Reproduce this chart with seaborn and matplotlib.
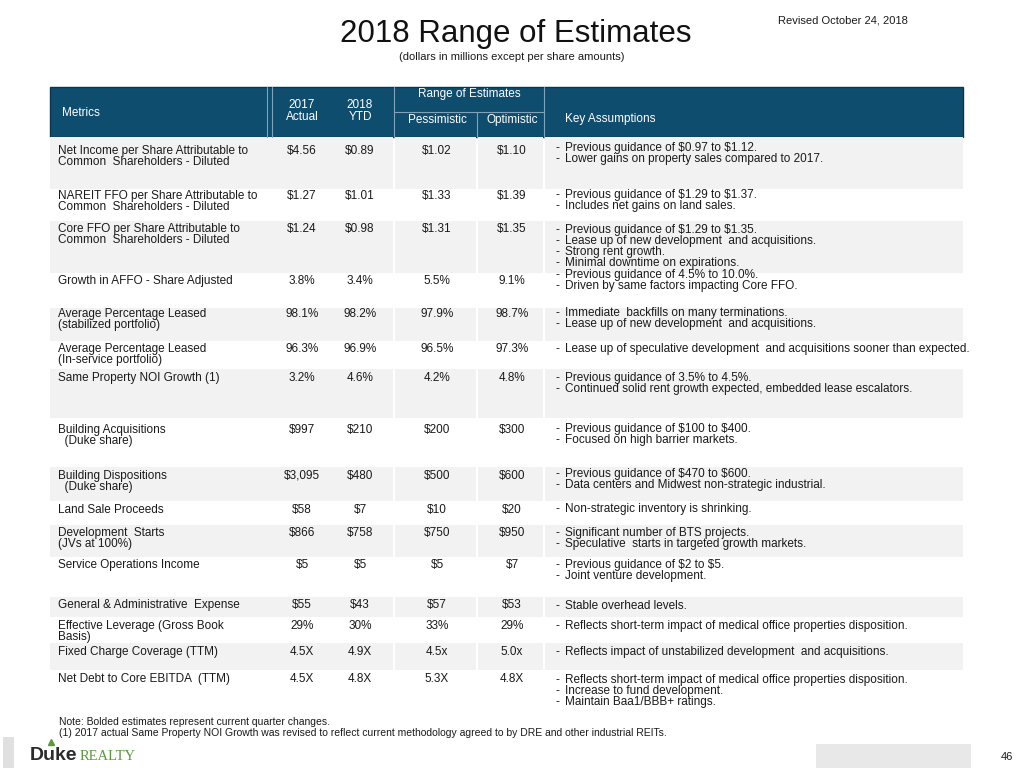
import matplotlib
matplotlib.use("Agg")
import matplotlib.pyplot as plt
from matplotlib.patches import Rectangle
import seaborn as sns

# data
metrics = [
    ["Net Income per Share Attributable to", "Common  Shareholders - Diluted"],
    ["NAREIT FFO per Share Attributable to", "Common  Shareholders - Diluted"],
    ["Core FFO per Share Attributable to", "Common  Shareholders - Diluted"],
    ["Growth in AFFO - Share Adjusted"],
    ["Average Percentage Leased", "(stabilized portfolio)"],
    ["Average Percentage Leased", "(In-service portfolio)"],
    ["Same Property NOI Growth (1)"],
    ["Building Acquisitions", "  (Duke share)"],
    ["Building Dispositions", "  (Duke share)"],
    ["Land Sale Proceeds"],
    ["Development  Starts", "(JVs at 100%)"],
    ["Service Operations Income"],
    ["General & Administrative  Expense"],
    ["Effective Leverage (Gross Book", "Basis)"],
    ["Fixed Charge Coverage (TTM)"],
    ["Net Debt to Core EBITDA  (TTM)"],
]
actual_2017 = ["$4.56", "$1.27", "$1.24", "3.8%", "98.1%", "96.3%", "3.2%", "$997",
               "$3,095", "$58", "$866", "$5", "$55", "29%", "4.5X", "4.5X"]
ytd_2018 = ["$0.89", "$1.01", "$0.98", "3.4%", "98.2%", "96.9%", "4.6%", "$210",
            "$480", "$7", "$758", "$5", "$43", "30%", "4.9X", "4.8X"]
pessimistic = ["$1.02", "$1.33", "$1.31", "5.5%", "97.9%", "96.5%", "4.2%", "$200",
               "$500", "$10", "$750", "$5", "$57", "33%", "4.5x", "5.3X"]
optimistic = ["$1.10", "$1.39", "$1.35", "9.1%", "98.7%", "97.3%", "4.8%", "$300",
              "$600", "$20", "$950", "$7", "$53", "29%", "5.0x", "4.8X"]
assumptions = [
    ["Previous guidance of $0.97 to $1.12.", "Lower gains on property sales compared to 2017."],
    ["Previous guidance of $1.29 to $1.37.", "Includes net gains on land sales."],
    ["Previous guidance of $1.29 to $1.35.", "Lease up of new development  and acquisitions.",
     "Strong rent growth.", "Minimal downtime on expirations."],
    ["Previous guidance of 4.5% to 10.0%.", "Driven by same factors impacting Core FFO."],
    ["Immediate  backfills on many terminations.", "Lease up of new development  and acquisitions."],
    ["Lease up of speculative development  and acquisitions sooner than expected."],
    ["Previous guidance of 3.5% to 4.5%.", "Continued solid rent growth expected, embedded lease escalators."],
    ["Previous guidance of $100 to $400.", "Focused on high barrier markets."],
    ["Previous guidance of $470 to $600.", "Data centers and Midwest non-strategic industrial."],
    ["Non-strategic inventory is shrinking."],
    ["Significant number of BTS projects.", "Speculative  starts in targeted growth markets."],
    ["Previous guidance of $2 to $5.", "Joint venture development."],
    ["Stable overhead levels."],
    ["Reflects short-term impact of medical office properties disposition."],
    ["Reflects impact of unstabilized development  and acquisitions."],
    ["Reflects short-term impact of medical office properties disposition.",
     "Increase to fund development.", "Maintain Baa1/BBB+ ratings."],
]
col_headers = ["2017\nActual", "2018\nYTD", "Pessimistic", "Optimistic"]
notes = ["Note: Bolded estimates represent current quarter changes.",
         "(1) 2017 actual Same Property NOI Growth was revised to reflect current methodology agreed to by DRE and other industrial REITs."]

# layout (pixels)
row_top = [137, 189, 221, 273, 308, 341, 369, 418, 467, 501, 525, 557, 597, 617, 643, 670, 712]
metric_y = [151, 196, 229, 280.5, 314, 349, 378, 430, 475.5, 509.5, 533, 565, 605, 625.7, 652, 678.7]
assump_y = [148, 195, 230, 275, 313, 349, 378, 429, 474, 509, 533, 565, 606, 626, 652, 680]
col_x = [302, 360, 437, 512]
LINE = 11
HEAD = "#0f4d6e"
GRAY = "#f2f2f2"
TXT = "#1a1a1a"

sns.set_theme(style="white")
plt.rcParams["font.family"] = ["Liberation Sans", "DejaVu Sans"]
plt.rcParams["text.parse_math"] = False

fig = plt.figure(figsize=(10.24, 7.68), dpi=100)
ax = fig.add_axes([0, 0, 1, 1])
ax.set_xlim(0, 1024)
ax.set_ylim(768, 0)
ax.axis("off")


def txt(x, y, s, size=8.5, **kw):
    kw.setdefault("color", TXT)
    ax.text(x, y + 0.36 * size * 100 / 72 * 0.8, s, fontsize=size, va="baseline", **kw)


# title block
txt(516, 33, "2018 Range of Estimates", size=22.5, ha="center", color="#111111")
txt(512, 57, "(dollars in millions except per share amounts)", size=8, ha="center")
txt(908, 20, "Revised October 24, 2018", size=8, ha="right")

# header band
ax.add_patch(Rectangle((50, 87), 913, 50, facecolor=HEAD, edgecolor="#0a3550", lw=1))
lc = "#7fa3ba"
for x in (267, 272, 394, 544):
    ax.plot([x, x], [87, 137], color=lc, lw=0.8)
ax.plot([477, 477], [112, 137], color=lc, lw=0.8)
ax.plot([394, 544], [112, 112], color=lc, lw=0.8)
txt(62, 113, "Metrics", color="white")
txt(469, 94, "Range of Estimates", ha="center", color="white")
for x, h in zip(col_x, col_headers):
    parts = h.split("\n")
    if len(parts) == 2:
        txt(x, 105, parts[0], ha="center", color="white")
        txt(x, 116.5, parts[1], ha="center", color="white")
    else:
        txt(x, 120, h, ha="center", color="white")
txt(565, 119, "Key Assumptions", color="white")

# row shading
segments = [(50, 393), (395, 476), (478, 543), (545, 963)]
for i in range(len(metrics)):
    if i % 2 == 0:
        for a, b in segments:
            ax.add_patch(Rectangle((a, row_top[i]), b - a, row_top[i + 1] - row_top[i],
                                   facecolor=GRAY, edgecolor="none"))

# rows
for i, m in enumerate(metrics):
    for k, line in enumerate(m):
        txt(58, metric_y[i] + k * LINE, line)
    for x, vals in zip(col_x, [actual_2017, ytd_2018, pessimistic, optimistic]):
        txt(x, metric_y[i], vals[i], ha="center")
    for k, line in enumerate(assumptions[i]):
        y = assump_y[i] + k * LINE
        txt(556, y, "-")
        txt(565, y, line)

# footnotes
txt(59, 722, notes[0], size=7.5)
txt(59, 733.5, notes[1], size=7.5)

# footer
ax.add_patch(Rectangle((3, 737), 11, 31, facecolor="#e0e0e0", edgecolor="none"))
ax.add_patch(Rectangle((816, 744), 155, 24, facecolor="#e8e8e8", edgecolor="none"))
txt(1013, 757, "46", size=8, ha="right")
ax.text(30, 760, "Duke", fontsize=14, fontweight="bold", color="#2b2b2b",
        family=["Liberation Sans", "DejaVu Sans"], va="baseline")
ax.text(80, 760, "REALTY", fontsize=10.5, color="#5a9a3c",
        family=["Liberation Serif", "DejaVu Serif"], va="baseline")
ax.plot([51], [742], marker="^", color="#5a9a3c", markersize=5)

fig.savefig("out.png", dpi=100, facecolor="white")
